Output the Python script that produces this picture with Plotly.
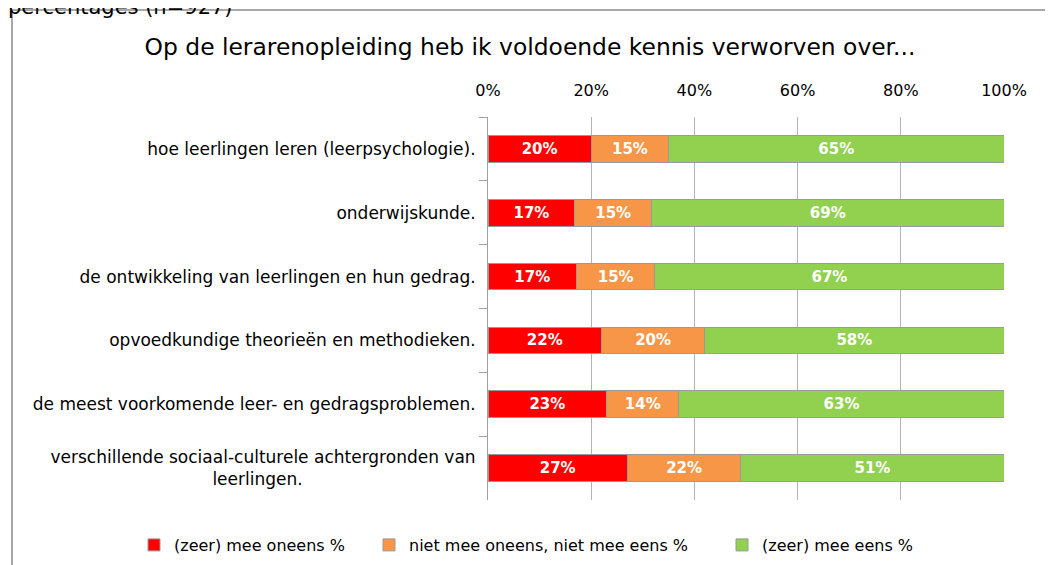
import plotly.graph_objects as go

# statements (top to bottom)
items = [
    "hoe leerlingen leren (leerpsychologie).",
    "onderwijskunde.",
    "de ontwikkeling van leerlingen en hun gedrag.",
    "opvoedkundige theorieën en methodieken.",
    "de meest voorkomende leer- en gedragsproblemen.",
    "verschillende sociaal-culturele achtergronden van<br>leerlingen." + "\u00a0" * 32,
]
oneens = [20, 17, 17, 22, 23, 27]
neutraal = [15, 15, 15, 20, 14, 22]
eens = [65, 69, 67, 58, 63, 51]
pct_ticks = [0, 20, 40, 60, 80, 100]
pct_labels = ["0%", "20%", "40%", "60%", "80%", "100%"]

series = [
    ("(zeer) mee oneens %", oneens, "#ff0000"),
    ("niet mee oneens, niet mee eens %", neutraal, "#f79646"),
    ("(zeer) mee eens %", eens, "#92d050"),
]

# page has an 8px body margin, so the figure starts at (8, 8)
OFF = 8
W, H = 1053 - OFF, 565 - OFF
L, R, T, B = 488 - OFF, 49, 117 - OFF, 65
pw, ph = W - L - R, H - T - B
FONT = "DejaVu Sans"

def px(x):
    # page pixel -> paper fraction
    return (x - OFF - L) / pw

def py(y):
    return (H - B - (y - OFF)) / ph

# one legend per series so each entry can sit where the original has it
legend_ids = ["legend", "legend2", "legend3"]
legend_x = [134, 369, 722]

fig = go.Figure()
for (name, vals, col), lid in zip(series, legend_ids):
    fig.add_trace(go.Bar(
        y=items, x=vals, name=name, orientation="h", legend=lid,
        marker=dict(color=col, line=dict(color="#9a9a9a", width=1)),
        text=[f"{v}%" for v in vals], textposition="inside",
        insidetextanchor="middle", textangle=0,
        textfont=dict(color="white", size=15, family=FONT, weight="bold"),
    ))

legend_style = dict(orientation="h", xref="paper", yref="paper", xanchor="left",
                    y=py(545), yanchor="middle", font=dict(size=16), itemwidth=30,
                    bgcolor="rgba(0,0,0,0)")

fig.update_layout(
    width=W, height=H, barmode="stack", barnorm="percent", bargap=0.58,
    margin=dict(l=L, r=R, t=T, b=B, autoexpand=False),
    paper_bgcolor="white", plot_bgcolor="white",
    font=dict(family=FONT, size=17, color="black"),
    title=dict(text="Op de lerarenopleiding heb ik voldoende kennis verworven over...",
               x=(530 - OFF) / W, xref="container", xanchor="center",
               y=1 - (47 - OFF) / H, yref="container", yanchor="middle",
               font=dict(size=23.4, family=FONT)),
    xaxis=dict(side="top", range=[0, 100], tickvals=pct_ticks, ticktext=pct_labels,
               showgrid=True, gridcolor="#b4b4b4", gridwidth=1,
               zeroline=False, showline=False, ticklabelstandoff=17,
               tickfont=dict(size=16)),
    yaxis=dict(autorange="reversed", showline=True, linecolor="#a0a0a0",
               ticks="outside", tickson="boundaries", ticklen=8,
               tickcolor="#a0a0a0", showgrid=False, ticklabelstandoff=8,
               tickfont=dict(size=17)),
    showlegend=True,
)
for lid, lx in zip(legend_ids, legend_x):
    fig.update_layout({lid: dict(legend_style, x=px(lx))})

# outer chart border
fig.add_shape(type="rect", xref="paper", yref="paper",
              x0=px(12), x1=px(1049), y0=py(575), y1=py(10),
              line=dict(color="#8c8c8c", width=1.5), fillcolor="rgba(0,0,0,0)")

# cut-off caption above the chart
fig.add_annotation(text="percentages (n=927)", xref="paper", yref="paper",
                   x=px(6), xanchor="left", y=py(21), yanchor="bottom",
                   showarrow=False, font=dict(size=21))

fig.write_html("out.html")
